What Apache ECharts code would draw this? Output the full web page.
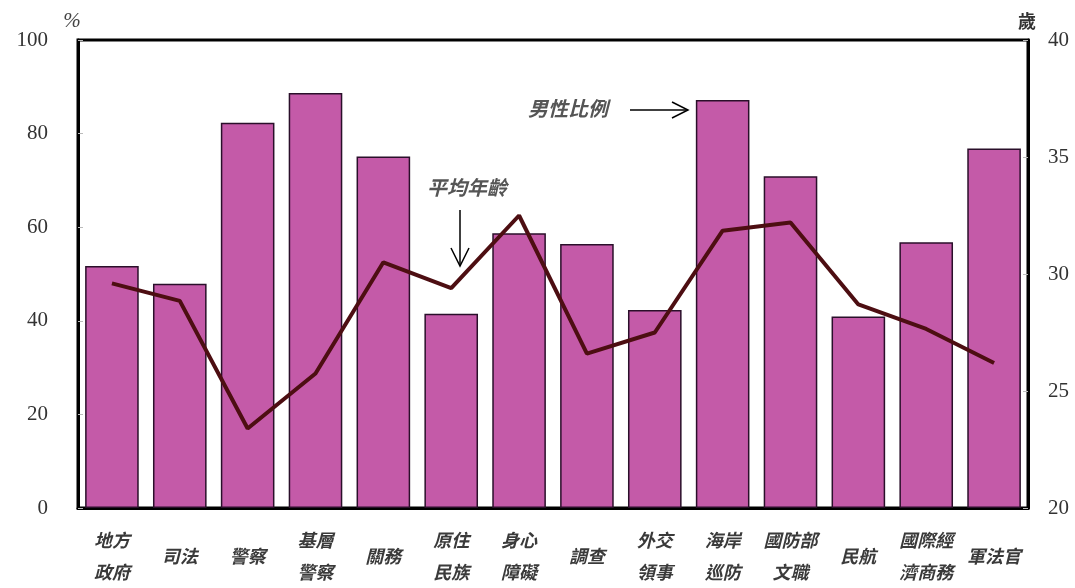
<!DOCTYPE html>
<html>
<head>
<meta charset="utf-8">
<script src="https://cdn.jsdelivr.net/npm/echarts@6/dist/echarts.min.js"></script>
<style>
html,body{margin:0;padding:0;background:#fff;}
#chart{width:1075px;height:588px;}
</style>
</head>
<body>
<div id="chart"></div>
<script>
var categories = ['地方\n政府','司法','警察','基層\n警察','關務','原住\n民族','身心\n障礙','調查','外交\n領事','海岸\n巡防','國防部\n文職','民航','國際經\n濟商務','軍法官'];
var maleRatio = [51.7, 47.9, 82.3, 88.7, 75.1, 41.5, 58.7, 56.4, 42.3, 87.2, 70.9, 40.9, 56.8, 76.8];
var avgAge = [29.6, 28.85, 23.4, 25.75, 30.5, 29.4, 32.5, 26.6, 27.5, 31.85, 32.2, 28.7, 27.65, 26.2];
var leftTicks = {min: 0, max: 100, interval: 20};
var rightTicks = {min: 20, max: 40, interval: 5};

var chart = echarts.init(document.getElementById('chart'));
var cjk = '"Noto Sans CJK TC", "Noto Sans CJK SC", sans-serif';
var serif = '"Liberation Serif", "DejaVu Serif", serif';
chart.setOption({
  animation: false,
  backgroundColor: '#fff',
  grid: {left: 78, right: 47, top: 40, bottom: 78, show: true, borderColor: '#000', borderWidth: 3, backgroundColor: 'transparent'},
  xAxis: {
    type: 'category', data: categories,
    axisLine: {show: true, lineStyle: {color: '#000', width: 3}},
    axisTick: {show: false},
    axisLabel: {interval: 0, margin: 48, verticalAlign: 'middle', fontFamily: cjk, fontStyle: 'italic', fontWeight: 'bold', fontSize: 18, lineHeight: 32, color: '#3a3a3a'}
  },
  yAxis: [
    {type: 'value', min: leftTicks.min, max: leftTicks.max, interval: leftTicks.interval,
     name: '%', nameLocation: 'end', nameGap: 8,
     nameTextStyle: {fontFamily: serif, fontSize: 21, color: '#444', fontStyle: 'italic', align: 'center', padding: [0, 0, 0, -12]},
     axisLine: {show: true, lineStyle: {color: '#000', width: 3}},
     axisTick: {show: true, inside: true, length: 5, lineStyle: {color: '#bbb'}},
     splitLine: {show: false},
     axisLabel: {margin: 30, fontFamily: serif, fontSize: 21, color: '#333'}},
    {type: 'value', min: rightTicks.min, max: rightTicks.max, interval: rightTicks.interval,
     name: '歲', nameLocation: 'end', nameGap: 10,
     nameTextStyle: {fontFamily: cjk, fontSize: 18, fontWeight: 'bold', color: '#333', align: 'left', padding: [0, 0, 0, -10]},
     axisLine: {show: true, lineStyle: {color: '#000', width: 3}},
     axisTick: {show: true, inside: true, length: 5, lineStyle: {color: '#bbb'}},
     splitLine: {show: false},
     axisLabel: {margin: 20, fontFamily: serif, fontSize: 21, color: '#333'}}
  ],
  series: [
    {name: '男性比例', type: 'bar', data: maleRatio, barWidth: '79%', yAxisIndex: 0,
     itemStyle: {color: '#c45aa8', borderColor: '#2a0f2a', borderWidth: 1.5}},
    {name: '平均年齡', type: 'line', data: avgAge, yAxisIndex: 1, symbol: 'none',
     lineStyle: {color: '#4d0e12', width: 4}}
  ],
  graphic: [
    {type: 'text', left: 528, top: 98, style: {text: '男性比例', font: 'italic bold 20px ' + cjk, fill: '#555'}},
    {type: 'line', shape: {x1: 630, y1: 110, x2: 688, y2: 110}, style: {stroke: '#000', lineWidth: 1.5}},
    {type: 'polyline', shape: {points: [[672, 102], [688, 110], [672, 118]]}, style: {stroke: '#000', lineWidth: 1.5, fill: null}},
    {type: 'text', left: 427, top: 177, style: {text: '平均年齡', font: 'italic bold 20px ' + cjk, fill: '#555'}},
    {type: 'line', shape: {x1: 460, y1: 210, x2: 460, y2: 266}, style: {stroke: '#000', lineWidth: 1.5}},
    {type: 'polyline', shape: {points: [[451, 248], [460, 266], [469, 248]]}, style: {stroke: '#000', lineWidth: 1.5, fill: null}}
  ]
});
</script>
</body>
</html>
